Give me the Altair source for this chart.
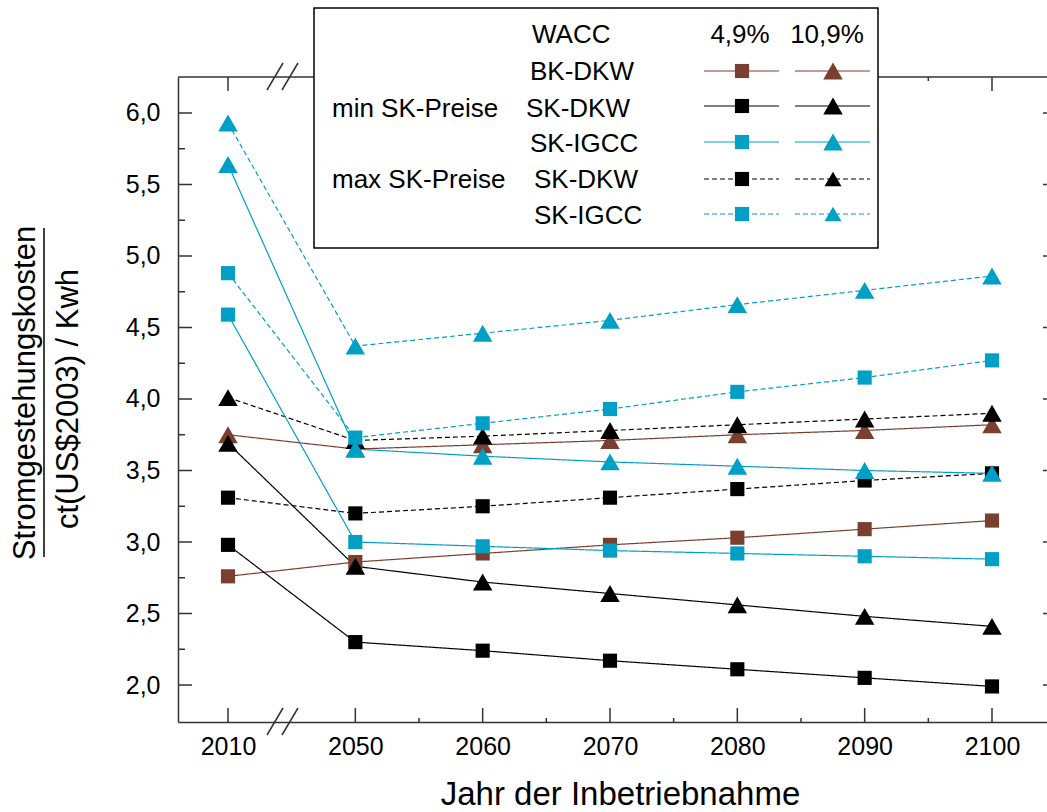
import altair as alt
import pandas as pd

FONT = "Liberation Sans"
BROWN = "#7B3F2F"
CYAN = "#00A0C6"
BLACK = "#000000"
AXC = "#333333"

# ---------------- data ----------------
years = [2010, 2050, 2060, 2070, 2080, 2090, 2100]
bk_49 = [2.76, 2.86, 2.92, 2.98, 3.03, 3.09, 3.15]
bk_109 = [3.75, 3.65, 3.68, 3.71, 3.75, 3.78, 3.82]
min_dkw_49 = [2.98, 2.30, 2.24, 2.17, 2.11, 2.05, 1.99]
min_dkw_109 = [3.69, 2.83, 2.72, 2.64, 2.56, 2.48, 2.41]
min_igcc_49 = [4.59, 3.00, 2.97, 2.94, 2.92, 2.90, 2.88]
min_igcc_109 = [5.64, 3.65, 3.60, 3.56, 3.53, 3.50, 3.48]
max_dkw_49 = [3.31, 3.20, 3.25, 3.31, 3.37, 3.43, 3.48]
max_dkw_109 = [4.01, 3.71, 3.74, 3.78, 3.82, 3.86, 3.90]
max_igcc_49 = [4.88, 3.73, 3.83, 3.93, 4.05, 4.15, 4.27]
max_igcc_109 = [5.93, 4.37, 4.46, 4.55, 4.66, 4.76, 4.86]

y_major = [2.0, 2.5, 3.0, 3.5, 4.0, 4.5, 5.0, 5.5, 6.0]
y_minor = [2.25, 2.75, 3.25, 3.75, 4.25, 4.75, 5.25, 5.75]
x_minor = [2055, 2065, 2075, 2085, 2095]

# broken axis: 2010 is drawn one step before 2050
def xpos_of(y):
    return 2040 if y == 2010 else y

x_major = [xpos_of(y) for y in years]

SQ, TRI = 200, 380

# series in drawing order: (name, values, shape, colour, dash)
series = [
    ("BK-DKW 4,9%", bk_49, "square", BROWN, "solid"),
    ("BK-DKW 10,9%", bk_109, "triangle", BROWN, "solid"),
    ("max SK-DKW 4,9%", max_dkw_49, "square", BLACK, "dashed"),
    ("max SK-DKW 10,9%", max_dkw_109, "triangle", BLACK, "dashed"),
    ("min SK-DKW 4,9%", min_dkw_49, "square", BLACK, "solid"),
    ("min SK-DKW 10,9%", min_dkw_109, "triangle", BLACK, "solid"),
    ("min SK-IGCC 4,9%", min_igcc_49, "square", CYAN, "solid"),
    ("min SK-IGCC 10,9%", min_igcc_109, "triangle", CYAN, "solid"),
    ("max SK-IGCC 4,9%", max_igcc_49, "square", CYAN, "dashed"),
    ("max SK-IGCC 10,9%", max_igcc_109, "triangle", CYAN, "dashed"),
]

rows = []
for name, vals, shp, col, dash in series:
    for yr, v in zip(years, vals):
        rows.append({"series": name, "year": yr, "xpos": xpos_of(yr), "value": v,
                     "shape": shp, "dash": dash, "sz": SQ if shp == "square" else TRI})
df = pd.DataFrame(rows)

# ---------------- layout ----------------
W, H = 869, 645
xscale = alt.Scale(domain=[2036.073, 2104.32], nice=False, zero=False)
yscale = alt.Scale(domain=[1.7413, 6.2517], nice=False, zero=False)

XAXIS = alt.Axis(values=x_major,
                 labelExpr="datum.value == 2040 ? '2010' : format(datum.value, 'd')",
                 ticks=False, tickSize=0, labelPadding=12, labelFontSize=25, labelFont=FONT,
                 labelColor="black", domainColor=AXC, domainWidth=1.5, grid=False,
                 labelFlush=False, labelOverlap=False,
                 title="Jahr der Inbetriebnahme", titleFont=FONT, titleFontSize=33,
                 titleFontWeight="normal", titleColor="black", titleY=82,
                 titleBaseline="alphabetic", titleX=442, titleAlign="center")
YAXIS = alt.Axis(values=y_major,
                 labelExpr="replace(format(datum.value, '.1f'), '.', ',')",
                 ticks=False, tickSize=0, labelPadding=18, labelFontSize=25, labelFont=FONT,
                 labelColor="black", domainColor=AXC, domainWidth=1.5, grid=False,
                 labelFlush=False, labelOverlap=False, title=None)

def X(f):
    return alt.X(f, scale=xscale, axis=XAXIS)

def Y(f):
    return alt.Y(f, scale=yscale, axis=YAXIS)

names = [s[0] for s in series]
cols = [s[3] for s in series]
color_enc = alt.Color("series:N", scale=alt.Scale(domain=names, range=cols), legend=None)
dash_enc = alt.StrokeDash("dash:N", scale=alt.Scale(domain=["solid", "dashed"], range=[[1, 0], [5, 3]]), legend=None)
shape_enc = alt.Shape("shape:N", scale=alt.Scale(domain=["square", "triangle"], range=["square", "triangle-up"]), legend=None)

base = alt.Chart(df)
lines = base.mark_line(strokeWidth=1.2).encode(x=X("xpos:Q"), y=Y("value:Q"), color=color_enc, strokeDash=dash_enc)
points = base.mark_point(filled=True, opacity=1, strokeWidth=0).encode(
    x=X("xpos:Q"), y=Y("value:Q"), color=color_enc, shape=shape_enc,
    size=alt.Size("sz:Q", scale=None, legend=None))

layers = [lines, points]

# inward ticks
def tick_df(vals):
    return pd.DataFrame({"v": vals})

layers.append(alt.Chart(tick_df(y_major)).mark_rule(color=AXC, strokeWidth=1.5).encode(
    y=Y("v:Q"), x=alt.value(0), x2=alt.value(14)))
layers.append(alt.Chart(tick_df(y_minor)).mark_rule(color=AXC, strokeWidth=1.5).encode(
    y=Y("v:Q"), x=alt.value(0), x2=alt.value(7)))
layers.append(alt.Chart(tick_df(y_major)).mark_rule(color=AXC, strokeWidth=1.5).encode(
    y=Y("v:Q"), x=alt.value(W - 4), x2=alt.value(W)))
layers.append(alt.Chart(tick_df(x_major)).mark_rule(color=AXC, strokeWidth=1.5).encode(
    x=X("v:Q"), y=alt.value(H), y2=alt.value(H - 14)))
layers.append(alt.Chart(tick_df(x_major)).mark_rule(color=AXC, strokeWidth=1.5).encode(
    x=X("v:Q"), y=alt.value(0), y2=alt.value(14)))
layers.append(alt.Chart(tick_df(x_minor)).mark_rule(color=AXC, strokeWidth=1.5).encode(
    x=X("v:Q"), y=alt.value(H), y2=alt.value(H - 4)))
layers.append(alt.Chart(tick_df(x_minor)).mark_rule(color=AXC, strokeWidth=1.5).encode(
    x=X("v:Q"), y=alt.value(0), y2=alt.value(4)))

one = alt.Data(values=[{"k": 1}])

def rule(x1, y1, x2, y2, color=AXC, width=1.5, dash=None):
    kw = dict(color=color, strokeWidth=width)
    if dash:
        kw["strokeDash"] = dash
    return alt.Chart(one).mark_rule(**kw).encode(
        x=alt.value(x1), y=alt.value(y1), x2=alt.value(x2), y2=alt.value(y2))

def text(t, x, y, size, align="left", angle=0, baseline="alphabetic"):
    kw = dict(font=FONT, fontSize=size, align=align, baseline=baseline, color="black")
    if angle:
        kw["angle"] = angle
    return alt.Chart(one).mark_text(**kw).encode(x=alt.value(x), y=alt.value(y), text=alt.value(t))

# top frame line
layers.append(rule(0, 0, W, 0))

# axis break marks
for yb in (H, 0):
    layers.append(rule(89, yb + 13, 105, yb - 14))
    layers.append(rule(104, yb + 13, 120, yb - 14))

# y-axis title as a fraction
layers.append(text("Stromgestehungskosten", -143, 316, 31, align="center", angle=270))
layers.append(rule(-134, 151, -134, 480, color="black", width=1.5))
layers.append(text("ct(US$2003) / Kwh", -100, 322, 31, align="center", angle=270))

# ---------------- legend box ----------------
layers.append(alt.Chart(one).mark_rect(fill="white", stroke="black", strokeWidth=1.5).encode(
    x=alt.value(136), x2=alt.value(700), y=alt.value(-69), y2=alt.value(171)))

legend_rows = [
    (BROWN, None, -6),
    (BLACK, None, 29),
    (CYAN, None, 65),
    (BLACK, [5, 3], 102),
    (CYAN, [5, 3], 137),
]
for col, dash, yy in legend_rows:
    layers.append(rule(526, yy, 601, yy, color=col, width=1.2, dash=dash))
    layers.append(rule(617, yy, 692, yy, color=col, width=1.2, dash=dash))
    layers.append(alt.Chart(one).mark_point(filled=True, opacity=1, strokeWidth=0, shape="square",
                                            size=SQ, color=col).encode(x=alt.value(564), y=alt.value(yy)))
    layers.append(alt.Chart(one).mark_point(filled=True, opacity=1, strokeWidth=0, shape="triangle-up",
                                            size=TRI if dash is None else 290, color=col).encode(
        x=alt.value(655), y=alt.value(yy)))

legend_texts = [
    ("WACC", 354, -34, "left"),
    ("4,9%", 562, -34, "center"),
    ("10,9%", 649, -34, "center"),
    ("BK-DKW", 352, 3, "left"),
    ("min SK-Preise", 154, 40, "left"),
    ("SK-DKW", 348, 40, "left"),
    ("SK-IGCC", 352, 75, "left"),
    ("max SK-Preise", 154, 111, "left"),
    ("SK-DKW", 356, 111, "left"),
    ("SK-IGCC", 356, 147, "left"),
]
for t, x, y, al in legend_texts:
    layers.append(text(t, x, y, 26, align=al))

chart = alt.layer(*layers).properties(
    width=W, height=H,
    autosize=alt.AutoSizeParams(type="none"),
    padding={"left": 178, "top": 77, "right": 0, "bottom": 90},
).configure_view(strokeWidth=0)

chart.save("out.html", embed_options={"renderer": "svg", "actions": False})
